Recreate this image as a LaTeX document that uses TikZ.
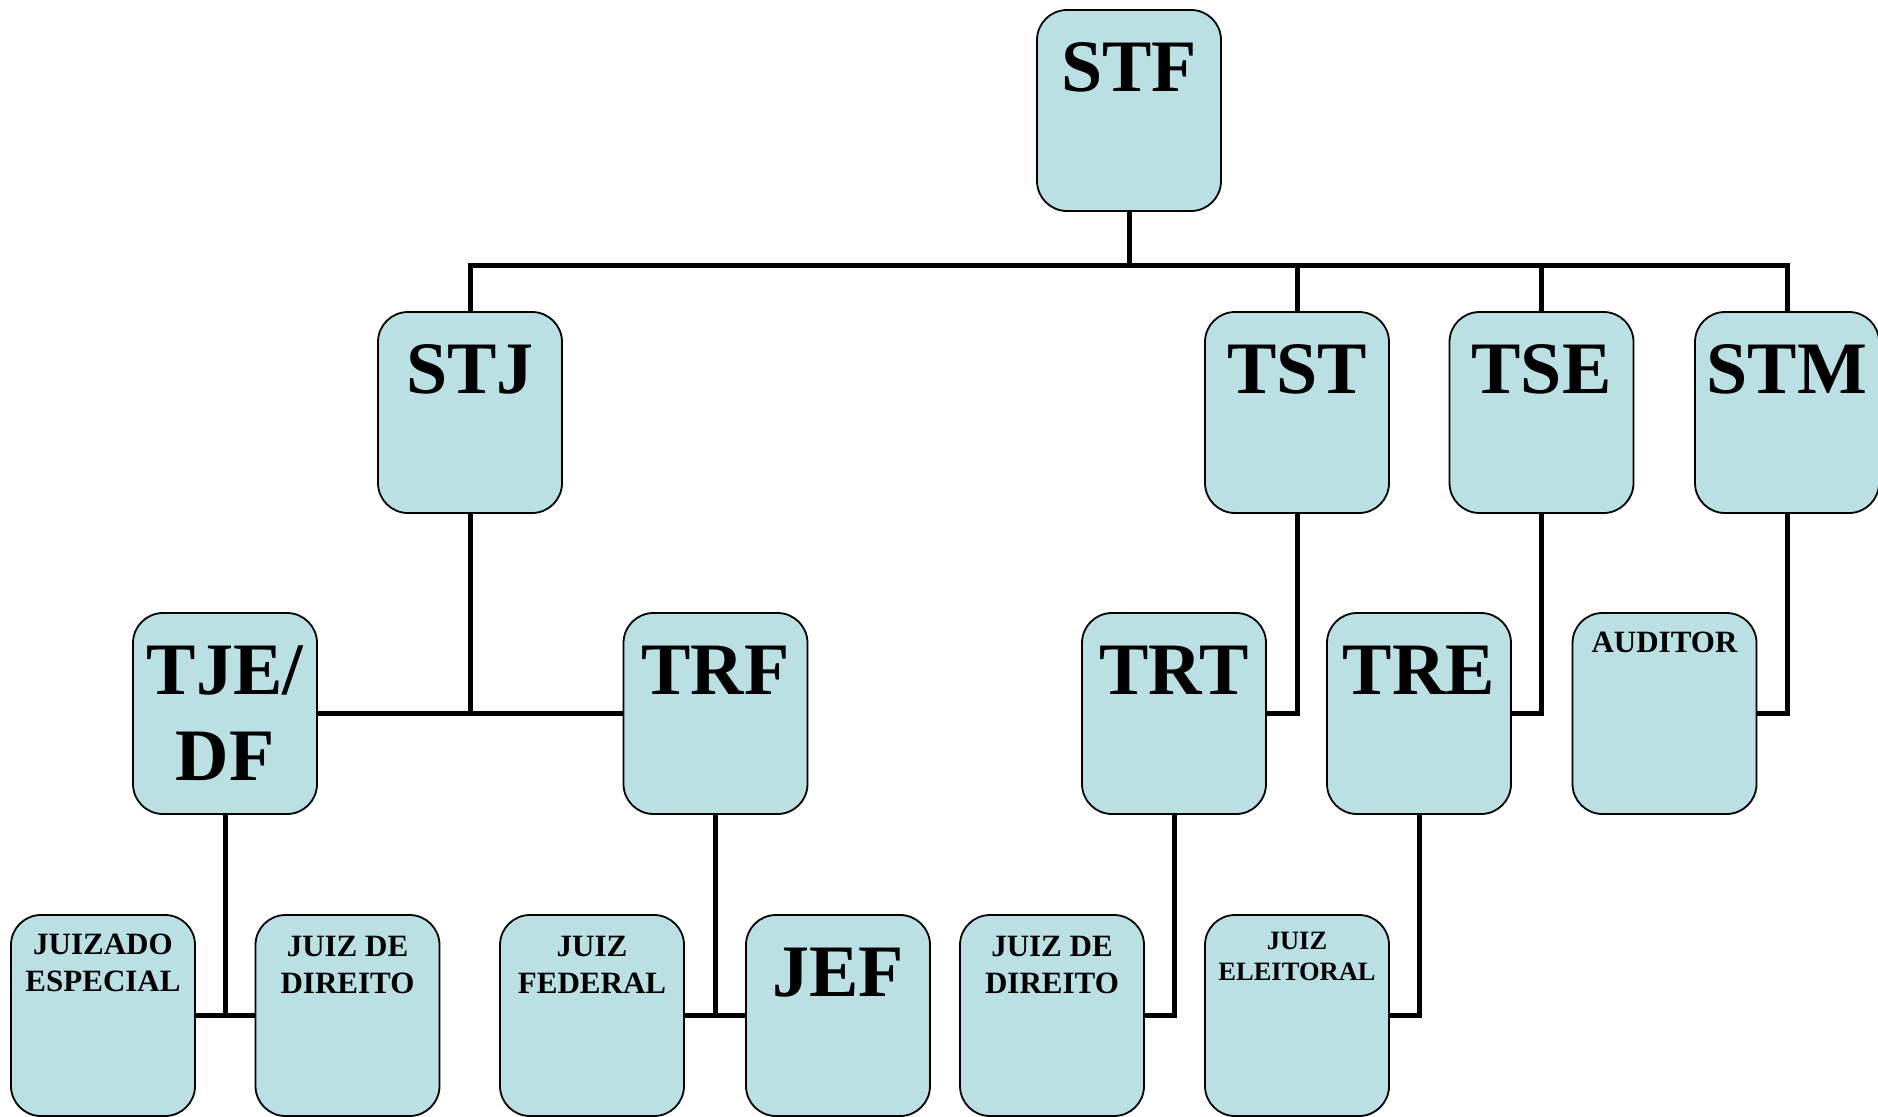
\documentclass[tikz,border=0pt]{standalone}
\usepackage{fontspec}
\setmainfont{Liberation Serif}
\usetikzlibrary{backgrounds}
\definecolor{boxfill}{RGB}{186,224,228}
\tikzset{
  box/.style={draw=black, line width=1.8pt, fill=boxfill, rounded corners=30pt,
    minimum width=184pt, minimum height=201pt, inner sep=0pt},
  conn/.style={draw=black, line width=5pt},
  big/.style={anchor=base, align=center, inner sep=0pt, font=\bfseries\fontsize{74}{86}\selectfont},
  small/.style={anchor=base, align=center, inner sep=0pt, font=\bfseries\fontsize{31}{37}\selectfont},
  tiny/.style={anchor=base, align=center, inner sep=0pt, font=\bfseries\fontsize{26.5}{31}\selectfont}
}
\begin{document}
\begin{tikzpicture}[x=1pt,y=-1pt]
\useasboundingbox (0,0) rectangle (1878,1116);
% row 1
\node[box] (stf) at (1129,110.5) {};
% row 2
\node[box] (stj) at (470,412.5) {};
\node[box] (tst) at (1297,412.5) {};
\node[box] (tse) at (1541.5,412.5) {};
\node[box] (stm) at (1787,412.5) {};
% row 3
\node[box] (tje) at (225,713.5) {};
\node[box] (trf) at (715.5,713.5) {};
\node[box] (trt) at (1174,713.5) {};
\node[box] (tre) at (1419,713.5) {};
\node[box] (aud) at (1664.5,713.5) {};
% row 4
\node[box] (jzd) at (103,1015.5) {};
\node[box] (jd1) at (347.5,1015.5) {};
\node[box] (jf) at (592,1015.5) {};
\node[box] (jef) at (838,1015.5) {};
\node[box] (jd2) at (1052,1015.5) {};
\node[box] (je) at (1297,1015.5) {};
% texts (multi-line nodes sit on the baseline of their last line)
\node[big] (stf-t) at ([yshift=-82pt]stf.north) {STF};
\node[big] (stj-t) at ([yshift=-82pt]stj.north) {STJ};
\node[big] (tst-t) at ([yshift=-82pt]tst.north) {TST};
\node[big] (tse-t) at ([yshift=-82pt]tse.north) {TSE};
\node[big] (stm-t) at ([yshift=-82pt]stm.north) {STM};
\node[big] (tje-t) at ([yshift=-168pt]tje.north) {TJE/\\DF};
\node[big] (trf-t) at ([yshift=-82pt]trf.north) {TRF};
\node[big] (trt-t) at ([yshift=-82pt]trt.north) {TRT};
\node[big] (tre-t) at ([yshift=-82pt]tre.north) {TRE};
\node[small] (aud-t) at ([yshift=-40pt]aud.north) {AUDITOR};
\node[small] (jzd-t) at ([yshift=-77pt]jzd.north) {JUIZADO\\ESPECIAL};
\node[small] (jd1-t) at ([yshift=-79pt]jd1.north) {JUIZ DE\\DIREITO};
\node[small] (jf-t) at ([yshift=-79pt]jf.north) {JUIZ\\FEDERAL};
\node[big] (jef-t) at ([yshift=-82pt]jef.north) {JEF};
\node[small] (jd2-t) at ([yshift=-79pt]jd2.north) {JUIZ DE\\DIREITO};
\node[tiny] (je-t) at ([yshift=-66pt]je.north) {JUIZ\\ELEITORAL};
% connectors
\begin{scope}[on background layer]
\coordinate (bus) at (1129,265);
\draw[conn] (stf.south) -- (bus);
\draw[conn] (stj.north) |- (stm.north |- bus) -- (stm.north);
\draw[conn] (tst.north) -- (tst.north |- bus);
\draw[conn] (tse.north) -- (tse.north |- bus);
\coordinate (j1) at (stj.south |- tje.east);
\draw[conn] (stj.south) -- (j1);
\draw[conn] (tje.east) -- (trf.west);
\draw[conn] (tst.south) |- (trt.east);
\draw[conn] (tse.south) |- (tre.east);
\draw[conn] (stm.south) |- (aud.east);
\coordinate (j2) at (tje.south |- jzd.east);
\draw[conn] (tje.south) -- (j2);
\draw[conn] (jzd.east) -- (jd1.west);
\coordinate (j3) at (trf.south |- jf.east);
\draw[conn] (trf.south) -- (j3);
\draw[conn] (jf.east) -- (jef.west);
\draw[conn] (trt.south) |- (jd2.east);
\draw[conn] (tre.south) |- (je.east);
\end{scope}
\end{tikzpicture}
\end{document}
